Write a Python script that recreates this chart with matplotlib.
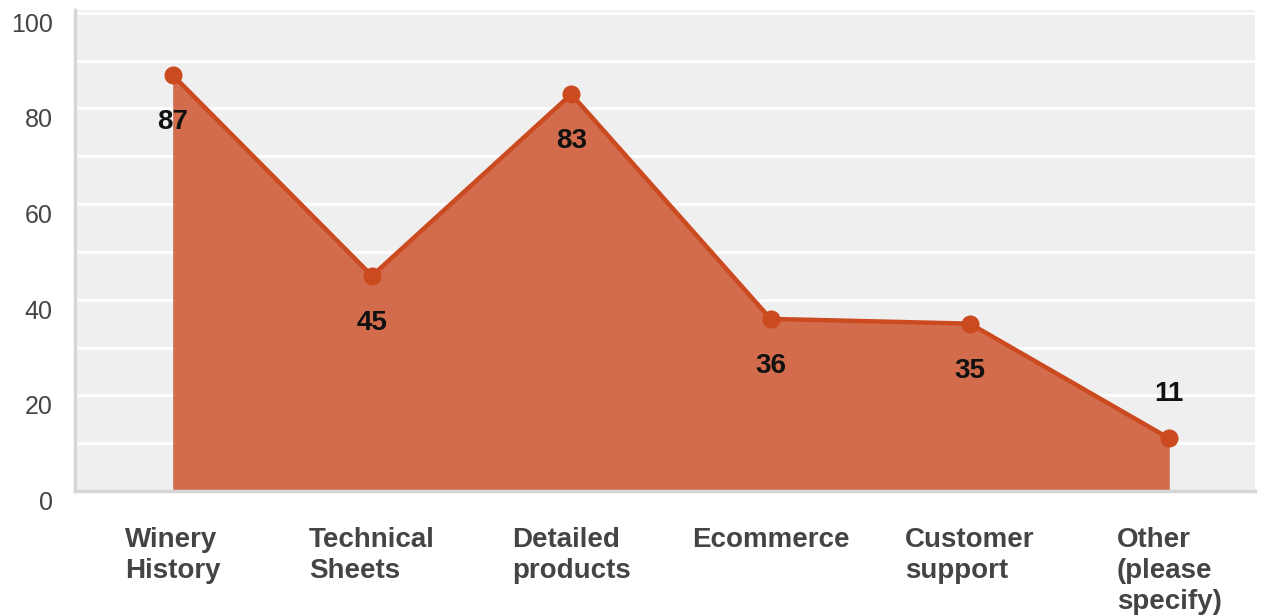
import numpy as np
import matplotlib.pyplot as plt
from matplotlib.ticker import MultipleLocator

plt.rcParams['font.family'] = ['Liberation Sans', 'DejaVu Sans']

categories = ['Winery\nHistory', 'Technical\nSheets', 'Detailed\nproducts',
              'Ecommerce', 'Customer\nsupport', 'Other\n(please\nspecify)']
values = [87, 45, 83, 36, 35, 11]
# label sits above the point only for the last one
label_above = [False, False, False, False, False, True]

line_color = '#cc4a1f'
fill_color = '#d26c4c'

fig = plt.figure(figsize=(12.67, 6.16), dpi=100)
ax = fig.add_axes([0.0592, 0.2029, 0.9313, 0.7809])
ax.set_facecolor('#efefef')

x = np.arange(len(values))
ax.fill_between(x, values, 0, color=fill_color, linewidth=0, zorder=2)
ax.plot(x, values, color=line_color, linewidth=3.2, marker='o',
        markersize=12, zorder=3)

for xi, v, up in zip(x, values, label_above):
    off = 32 if up else -34
    ax.annotate(str(v), (xi, v), xytext=(0, off), textcoords='offset points',
                ha='center', va='center', fontsize=20, fontweight='bold',
                color='#111111', zorder=4)

ax.set_xlim(-0.49, 5.43)
ax.set_ylim(0, 100.6)
ax.yaxis.set_major_locator(MultipleLocator(20))
ax.yaxis.set_minor_locator(MultipleLocator(10))
ax.grid(which='both', axis='y', color='white', linewidth=2, zorder=1)
ax.set_axisbelow(True)

ax.set_xticks(x)
ax.set_xticklabels(categories, fontsize=20, fontweight='bold', color='#444444',
                   linespacing=1.25, multialignment='left')
ax.tick_params(axis='x', length=0, pad=26)
ax.tick_params(axis='y', which='both', length=0, pad=16, labelsize=18,
               labelcolor='#444444')
for lbl in ax.get_yticklabels():
    lbl.set_va('top')

for side in ['top', 'right']:
    ax.spines[side].set_visible(False)
for side in ['left', 'bottom']:
    ax.spines[side].set_color('#d6d6d6')
    ax.spines[side].set_linewidth(2.5)

fig.savefig('out.png', dpi=100)
